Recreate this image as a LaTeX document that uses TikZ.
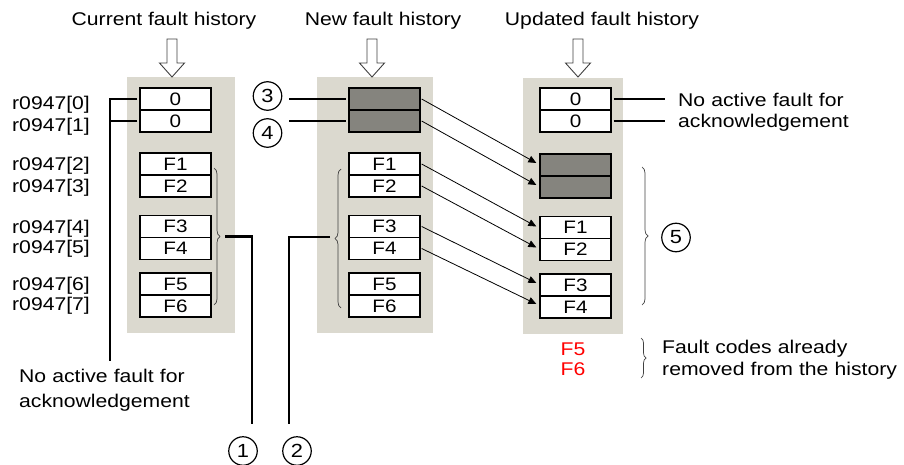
\documentclass[tikz,border=0pt]{standalone}
\usepackage{fontspec}
\setmainfont{Liberation Sans}[FakeStretch=1.15]
\usetikzlibrary{decorations.pathreplacing,arrows.meta}
\definecolor{panelgray}{RGB}{219,217,207}
\definecolor{darkcell}{RGB}{133,132,126}
\definecolor{faultred}{RGB}{255,0,0}
\tikzset{
  txt/.style={inner sep=0pt, font=\fontsize{18.4}{21.5}\selectfont},
  cell/.style={draw, line width=1.3pt, fill=white, minimum width=71pt, minimum height=22pt, inner sep=0pt, text height=12.5pt, text depth=0pt, font=\fontsize{18}{20}\selectfont},
  darkc/.style={cell, fill=darkcell},
  panel/.style={fill=panelgray, draw=none},
  conn/.style={line width=2.2pt},
  move/.style={line width=0.8pt, -{Triangle[length=8pt,width=7pt]}},
  brc/.style={draw=black!75, line width=0.7pt, decorate, decoration={brace, amplitude=6pt}},
  numc/.style={circle, draw, line width=1.2pt, minimum size=28.5pt, inner sep=0pt, font=\fontsize{19}{21.5}\selectfont},
  hollow/.style={draw=black!75, fill=white, line width=0.9pt},
}
\begin{document}
\begin{tikzpicture}[x=1pt,y=-1pt]
\useasboundingbox (0,0) rectangle (904,465);
% panels
\fill[panel] (127,77) rectangle (235,333);
\fill[panel] (317,77) rectangle (433,333);
\fill[panel] (523,78) rectangle (623,334);
% headers
\node[txt, anchor=base] (h1) at (164,26) {Current fault history};
\node[txt, anchor=base] (h2) at (383,26) {New fault history};
\node[txt, anchor=base] (h3) at (602,26) {Updated fault history};
% hollow arrows
\foreach \c in {172,372,578}{
  \draw[hollow] (\c-5,39) -- (\c+5,39) -- (\c+5,63) -- (\c+12.5,63) -- (\c,77) -- (\c-12.5,63) -- (\c-5,63) -- cycle;
}
% panel 1 cells
\node[cell] (L0) at (175.5,99) {0};
\node[cell] (L1) at (175.5,121) {0};
\node[cell] (L2) at (175.5,164) {F1};
\node[cell] (L3) at (175.5,186) {F2};
\node[cell] (L4) at (175.5,226.5) {F3};
\node[cell] (L5) at (175.5,248.5) {F4};
\node[cell] (L6) at (175.5,284) {F5};
\node[cell] (L7) at (175.5,306) {F6};
% panel 2 cells
\node[darkc] (N0) at (384.5,99) {};
\node[darkc] (N1) at (384.5,121) {};
\node[cell] (N2) at (384.5,164) {F1};
\node[cell] (N3) at (384.5,186) {F2};
\node[cell] (N4) at (384.5,226.5) {F3};
\node[cell] (N5) at (384.5,248.5) {F4};
\node[cell] (N6) at (384.5,284) {F5};
\node[cell] (N7) at (384.5,306) {F6};
% panel 3 cells
\node[cell] (U0) at (575.5,99) {0};
\node[cell] (U1) at (575.5,121) {0};
\node[darkc] (U2) at (575.5,165) {};
\node[darkc] (U3) at (575.5,187) {};
\node[cell] (U4) at (575.5,227.5) {F1};
\node[cell] (U5) at (575.5,249.5) {F2};
\node[cell] (U6) at (575.5,285) {F3};
\node[cell] (U7) at (575.5,307) {F4};
% left labels
\node[txt, anchor=base west] (r0) at (12,110) {r0947[0]};
\node[txt, anchor=base west] (r1) at (12,132) {r0947[1]};
\node[txt, anchor=base west] (r2) at (12,171) {r0947[2]};
\node[txt, anchor=base west] (r3) at (12,193) {r0947[3]};
\node[txt, anchor=base west] (r4) at (12,233) {r0947[4]};
\node[txt, anchor=base west] (r5) at (12,253) {r0947[5]};
\node[txt, anchor=base west] (r6) at (12,290) {r0947[6]};
\node[txt, anchor=base west] (r7) at (12,310) {r0947[7]};
% left note
\node[txt, anchor=base west, text width=200pt, align=left, font=\fontsize{18.4}{25}\selectfont] (naL) at (19,382) {No active fault for\\acknowledgement};
\coordinate (jL) at (110,361);
\draw[conn] ([xshift=-2pt]L0.west) -| (jL);
\draw[conn] ([xshift=-2pt]L1.west) -- (L1.west -| jL);
% brace panel 1 -> (1)
\draw[brc] (214,168) -- (214,305);
\coordinate (b1) at (225,236.5);
\coordinate (e1) at (252,424);
\draw[conn] (b1) -| (e1);
\node[numc] (c1) at (243,451) {1};
% brace panel 2 -> (2)
\draw[brc] (341,308) -- (341,169);
\coordinate (b2) at (330,237);
\coordinate (e2) at (289,424);
\draw[conn] (b2) -| (e2);
\node[numc] (c2) at (297,451) {2};
% (3) and (4)
\node[numc] (c3) at (267.5,96) {3};
\node[numc] (c4) at (267.5,133) {4};
\coordinate (s3) at (289,99);
\coordinate (s4) at (289,121);
\draw[conn] (s3) -- ([xshift=-2pt]N0.west);
\draw[conn] (s4) -- ([xshift=-2pt]N1.west);
% moving arrows
\draw[move] ([xshift=1pt]N0.east) -- ([xshift=-3pt,yshift=2pt]U2.west);
\draw[move] ([xshift=1pt]N1.east) -- ([xshift=-3pt,yshift=2pt]U3.west);
\draw[move] ([xshift=1pt]N2.east) -- ([xshift=-3pt,yshift=1pt]U4.west);
\draw[move] ([xshift=1pt]N3.east) -- ([xshift=-3pt,yshift=2pt]U5.west);
\draw[move] ([xshift=1pt]N4.east) -- ([xshift=-3pt,yshift=2pt]U6.west);
\draw[move] ([xshift=1pt]N5.east) -- ([xshift=-3pt,yshift=3pt]U7.west);
% right note
\coordinate (tR) at (665,100);
\draw[conn] ([xshift=2pt]U0.east) -- (U0.east -| tR);
\draw[conn] ([xshift=2pt]U1.east) -- (U1.east -| tR);
\node[txt, anchor=base west, text width=220pt, align=left, font=\fontsize{18.4}{21}\selectfont] (naR) at (678,107) {No active fault for\\acknowledgement};
% brace (5)
\draw[brc] (642,167) -- (642,305);
\node[numc] (c5) at (676,237.5) {5};
% removed faults
\node[txt, anchor=base, text width=40pt, align=center, text=faultred, font=\fontsize{18.4}{20}\selectfont] (rm) at (573,355) {F5\\F6};
\draw[brc, decoration={brace, amplitude=5pt}] (641,338) -- (641,378);
\node[txt, anchor=base west, text width=250pt, align=left, font=\fontsize{18.4}{22}\selectfont] (fc) at (662,353) {Fault codes already\\removed from the history};
\end{tikzpicture}
\end{document}
